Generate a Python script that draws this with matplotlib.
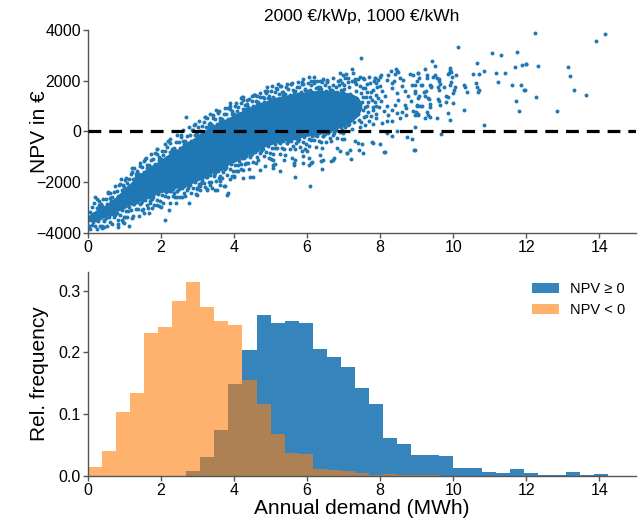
import numpy as np
import matplotlib
matplotlib.use("Agg")
import matplotlib.pyplot as plt

plt.rcParams['font.family'] = ['Liberation Sans', 'DejaVu Sans']

# ---------------- data ----------------
title_text = "2000 €/kWp, 1000 €/kWh"

# dense (solid) core of the scatter cloud: annual demand (MWh) and NPV envelope (€)
core_demand = [0.0, 0.2, 0.4, 0.6, 0.8, 1.0, 1.2, 1.4, 1.6, 1.8, 2.0, 2.2, 2.4, 2.6, 2.8, 3.0,
               3.2, 3.4, 3.6, 3.8, 4.0, 4.2, 4.4, 4.6, 4.8, 5.0, 5.2, 5.4, 5.6, 5.8, 6.0, 6.2,
               6.4, 6.6, 6.8, 7.0, 7.2, 7.4, 7.5]
core_npv_low = [-3580, -3520, -3430, -3300, -3160, -3050, -2880, -2760, -2640, -2540, -2420,
                -2360, -2250, -2190, -2090, -1960, -1830, -1660, -1520, -1360, -1230, -1080,
                -930, -770, -640, -540, -440, -380, -320, -250, -200, -150, -100, -20, 80, 200,
                350, 600, 900]
core_npv_high = [-3330, -3120, -2980, -2760, -2540, -2240, -1980, -1700, -1480, -1290, -1120,
                 -900, -760, -520, -360, -150, 60, 210, 380, 500, 660, 800, 940, 1060, 1160,
                 1260, 1360, 1420, 1480, 1540, 1560, 1600, 1620, 1600, 1570, 1550, 1500, 1350,
                 1100]

# scatter points (demand MWh, NPV €)
upper_fringe = [(0.07,-3165),(0.12,-2985),(0.14,-3265),(0.18,-2820),(0.24,-3030),(0.2,-2600),
    (0.31,-2900),(0.26,-2670),(0.33,-3030),(0.35,-2860),(0.42,-2650),(0.39,-2950),(0.53,-2880),
    (0.49,-2670),(0.55,-2450),(0.61,-2610),(0.56,-2380),(0.63,-2740),(0.67,-2590),(0.72,-2410),
    (0.74,-2690),(0.83,-2550),(0.79,-2340),(0.85,-2120),(0.88,-2090),(0.94,-2300),(0.9,-1870),
    (0.95,-2120),(1.02,-1910),(0.99,-2210),(1.07,-2050),(1.12,-1870),(1.14,-2150),(1.18,-1680),
    (1.24,-1890),(1.2,-1460),(1.31,-1690),(1.26,-1460),(1.33,-1820),(1.35,-1580),(1.42,-1370),
    (1.39,-1670),(1.53,-1600),(1.49,-1390),(1.55,-1170),(1.61,-1330),(1.56,-1100),(1.63,-1460),
    (1.67,-1325),(1.72,-1145),(1.74,-1425),(1.83,-1300),(1.79,-1090),(1.85,-870),(1.88,-905),
    (1.94,-1115),(1.9,-685),(1.95,-1000),(2.02,-790),(1.99,-1090),(2.07,-950),(2.12,-770),
    (2.14,-1050),(2.18,-600),(2.24,-810),(2.2,-380),(2.31,-680),(2.26,-450),(2.33,-810),
    (2.35,-640),(2.42,-430),(2.39,-730),(2.53,-650),(2.49,-440),(2.55,-220),(2.61,-370),
    (2.56,-140),(2.63,-500),(2.67,-380),(2.72,-200),(2.74,-480),(2.83,-370),(2.79,-160),
    (2.85,60),(2.88,45),(2.94,-165),(2.9,265),(2.95,-30),(3.02,180),(2.99,-120),(3.07,15),
    (3.12,195),(3.14,-85),(3.18,360),(3.24,150),(3.2,580),(3.31,285),(3.26,515),(3.33,155),
    (3.35,330),(3.42,540),(3.39,240),(3.53,285),(3.49,495),(3.55,715),(3.61,530),(3.56,760),
    (3.63,400),(3.67,500),(3.72,680),(3.74,400),(3.83,490),(3.79,700),(3.85,920),(3.88,880),
    (3.94,670),(3.9,1100),(3.95,780),(4.02,990),(3.99,690),(4.07,790),(4.12,970),(4.14,690),
    (4.18,1100),(4.24,890),(4.2,1320),(4.31,1020),(4.26,1250),(4.33,890),(4.35,1060),
    (4.42,1270),(4.39,970),(4.53,990),(4.49,1200),(4.55,1420),(4.61,1210),(4.56,1440),
    (4.63,1080),(4.67,1170),(4.72,1350),(4.74,1070),(4.83,1150),(4.79,1360),(4.85,1580),
    (4.88,1510),(4.94,1300),(4.9,1730),(4.95,1380),(5.02,1590),(4.99,1290),(5.07,1370),
    (5.12,1550),(5.14,1270),(5.18,1660),(5.24,1450),(5.2,1880),(5.31,1540),(5.26,1770),
    (5.33,1410),(5.35,1540),(5.42,1750),(5.39,1450),(5.53,1440),(5.49,1650),(5.55,1870),
    (5.61,1630),(5.56,1860),(5.63,1500),(5.67,1570),(5.72,1750),(5.74,1470),(5.83,1530),
    (5.79,1740),(5.85,1960),(5.88,1850),(5.94,1640),(5.9,2070),(5.95,1680),(6.02,1890),
    (5.99,1590),(6.07,1640),(6.12,1820),(6.14,1540),(6.18,1900),(6.24,1690),(6.2,2120),
    (6.31,1760),(6.26,1990),(6.33,1630),(6.35,1740),(6.42,1950),(6.39,1650),(6.53,1600),
    (6.49,1810),(6.55,2030),(6.61,1750),(6.56,1980),(6.63,1620),(6.67,1640),(6.72,1820),
    (6.74,1540),(6.83,1550),(6.79,1760),(6.85,1980),(6.88,1820),(6.94,1610),(6.9,2040),
    (6.95,1600),(7.02,1810),(6.99,1510)]
lower_fringe = [(0.11,-3710),(0.06,-3850),(0.13,-3570),(0.23,-3510),(0.19,-3730),(0.25,-3850),
    (0.27,-3535),(0.32,-3735),(0.34,-3435),(0.38,-3750),(0.44,-3530),(0.4,-3820),(0.45,-3495),
    (0.52,-3715),(0.49,-3405),(0.57,-3360),(0.62,-3560),(0.64,-3260),(0.71,-3390),(0.66,-3650),
    (0.73,-3250),(0.75,-3290),(0.82,-3510),(0.79,-3200),(0.93,-3095),(0.89,-3315),(0.95,-3565),
    (0.98,-3370),(1.04,-3150),(1.0,-3610),(1.11,-3125),(1.06,-3385),(1.13,-2985),(1.23,-2870),
    (1.19,-3090),(1.25,-3340),(1.27,-2880),(1.32,-3080),(1.34,-2780),(1.38,-3080),(1.44,-2860),
    (1.4,-3320),(1.45,-2830),(1.52,-3050),(1.49,-2740),(1.57,-2700),(1.62,-2900),(1.64,-2600),
    (1.71,-2750),(1.66,-3010),(1.73,-2610),(1.75,-2670),(1.82,-2890),(1.79,-2580),(1.93,-2470),
    (1.89,-2690),(1.95,-2940),(1.98,-2740),(2.04,-2520),(2.0,-2980),(2.11,-2550),(2.06,-2810),
    (2.13,-2410),(2.23,-2350),(2.19,-2570),(2.25,-2820),(2.27,-2365),(2.32,-2565),(2.34,-2265),
    (2.38,-2570),(2.44,-2350),(2.4,-2810),(2.45,-2350),(2.52,-2570),(2.49,-2260),(2.57,-2250),
    (2.62,-2450),(2.64,-2150),(2.71,-2300),(2.66,-2560),(2.73,-2160),(2.75,-2220),(2.82,-2440),
    (2.79,-2130),(2.93,-2015),(2.89,-2235),(2.95,-2485),(2.98,-2280),(3.04,-2060),(3.0,-2520),
    (3.11,-2055),(3.06,-2315),(3.13,-1915),(3.23,-1820),(3.19,-2040),(3.25,-2290),(3.27,-1805),
    (3.32,-2005),(3.34,-1705),(3.38,-1980),(3.44,-1760),(3.4,-2220),(3.45,-1720),(3.52,-1940),
    (3.49,-1630),(3.57,-1580),(3.62,-1780),(3.64,-1480),(3.71,-1600),(3.66,-1860),(3.73,-1460),
    (3.75,-1490),(3.82,-1710),(3.79,-1400),(3.93,-1285),(3.89,-1505),(3.95,-1755),(3.98,-1550),
    (4.04,-1330),(4.0,-1790),(4.11,-1315),(4.06,-1575),(4.13,-1175),(4.23,-1070),(4.19,-1290),
    (4.25,-1540),(4.27,-1065),(4.32,-1265),(4.34,-965),(4.38,-1250),(4.44,-1030),(4.4,-1490),
    (4.45,-980),(4.52,-1200),(4.49,-890),(4.57,-830),(4.62,-1030),(4.64,-730),(4.71,-865),
    (4.66,-1125),(4.73,-725),(4.75,-770),(4.82,-990),(4.79,-680),(4.93,-580),(4.89,-800),
    (4.95,-1050),(4.98,-860),(5.04,-640),(5.0,-1100),(5.11,-650),(5.06,-910),(5.13,-510),
    (5.23,-430),(5.19,-650),(5.25,-900),(5.27,-470),(5.32,-670),(5.34,-370),(5.38,-700),
    (5.44,-480),(5.4,-940),(5.45,-480),(5.52,-700),(5.49,-390),(5.57,-380),(5.62,-580),
    (5.64,-280),(5.71,-445),(5.66,-705),(5.73,-305),(5.75,-380),(5.82,-600),(5.79,-290),
    (5.93,-215),(5.89,-435),(5.95,-685),(5.98,-520),(6.04,-300),(6.0,-760),(6.11,-335),
    (6.06,-595),(6.13,-195),(6.23,-140),(6.19,-360),(6.25,-610),(6.27,-185),(6.32,-385),
    (6.34,-85),(6.38,-420),(6.44,-200),(6.4,-660),(6.45,-190),(6.52,-410),(6.49,-100),
    (6.57,-80),(6.62,-280),(6.64,20),(6.71,-130),(6.66,-390),(6.73,10),(6.75,-50),(6.82,-270),
    (6.79,40),(6.93,175),(6.89,-45),(6.95,-295),(6.98,-70),(7.04,150),(7.0,-310)]
upper_far = [(0.3,-2750),(0.6,-2450),(0.75,-2150),(1.05,-1850),(1.2,-1600),(1.42,-1250),
    (1.6,-1050),(1.72,-900),(1.88,-700),(2.1,-500),(2.25,-300),(2.45,-150),(2.6,50),(2.68,570),
    (2.78,180),(2.92,300),(3.05,420),(3.2,560),(3.35,700),(3.42,640),(3.5,820),(3.6,780),
    (3.75,900),(3.9,1000),(4.05,1100),(4.22,1360),(4.25,1340),(4.35,1250),(4.5,1400),(4.58,1420),
    (4.63,1380),(4.72,1500),(4.81,1320),(4.9,1600),(5.05,1800),(5.15,1700),(5.3,1800),
    (5.45,1850),(5.6,1900),(5.75,1950),(5.85,1850),(6.04,2140),(6.1,1970),(6.2,2000),
    (6.36,1970),(6.45,2050),(6.56,1950),(6.7,2100),(6.9,2280),(7.07,2260),(6.99,2200),
    (7.12,2100),(7.22,2000),(7.24,2470),(7.31,2070),(7.47,2880),(7.54,2100),(7.7,2120),
    (7.85,2100),(8.0,2120),(8.18,2040),(8.32,1910),(8.45,2370),(8.41,2240)]
lower_far = [(0.03,-3750),(0.44,-3790),(0.82,-3790),(0.82,-3660),(1.12,-3720),(0.94,-3490),
    (1.03,-3360),(1.21,-3420),(1.47,-3090),(1.53,-3220),(1.67,-3200),(1.71,-2830),(1.76,-3030),
    (1.89,-2890),(2.12,-3490),(2.23,-3120),(2.37,-2430),(2.43,-2580),(2.58,-2570),(2.76,-2830),
    (2.99,-2240),(3.03,-2170),(3.08,-2170),(3.21,-2200),(3.26,-2300),(3.35,-2100),(3.49,-2330),
    (3.53,-2300),(3.58,-1840),(3.62,-2100),(3.63,-1970),(3.72,-2170),(3.76,-2170),(3.81,-2500),
    (3.85,-2430),(3.88,-1870),(3.99,-1780),(4.1,-1550),(4.2,-1500),(4.26,-1840),(4.44,-1820),
    (4.52,-1820),(4.3,-1300),(4.6,-1250),(4.72,-1510),(4.85,-1380),(5.06,-1320),(5.08,-1450),
    (5.08,-1120),(5.13,-1290),(5.27,-1580),(5.36,-1120),(5.58,-1050),(5.63,-1250),(5.63,-1320),
    (5.67,-1820),(5.68,-1120),(5.86,-790),(5.9,-990),(5.9,-1250),(6.04,-1050),(6.04,-1320),
    (6.07,-2170),(6.13,-1210),(6.36,-920),(6.38,-1160),(6.42,-1470),(6.43,-1140),(6.1,-1260),
    (6.65,-1160),(6.72,-1120),(6.75,-1050),(6.81,-640),(6.9,-790),(7.09,-840),(7.09,-860),
    (7.18,-720),(7.2,-1090),(7.4,-460),(7.41,-750),(7.54,-860),(7.77,-430),(7.3,-400),
    (7.5,-500),(7.8,-450),(8.0,-500),(8.12,-820),(8.13,-820),(8.18,-70),(8.32,-200),(8.45,0),
    (8.73,-220),(8.88,-290),(8.92,-720),(8.95,-740),(8.95,160),(9.68,-90),(10.83,240)]
mid_7_8 = [(6.95,1900),(7.0,1650),(7.02,1350),(7.05,1100),(7.08,800),(7.1,500),(7.12,250),
    (7.15,1750),(7.18,1450),(7.2,1200),(7.22,950),(7.25,650),(7.28,350),(7.3,1950),(7.33,1600),
    (7.35,1300),(7.38,1050),(7.4,700),(7.42,450),(7.45,1800),(7.48,1500),(7.5,1150),(7.52,850),
    (7.55,550),(7.57,2050),(7.6,1700),(7.62,1350),(7.65,1000),(7.68,750),(7.7,400),(7.72,1900),
    (7.75,1550),(7.78,1250),(7.8,950),(7.83,2000),(7.85,1150),(7.88,700),(7.92,1750),(7.95,1300),
    (7.98,950),(6.98,1500),(7.03,2100),(7.13,1950),(7.27,1050),(7.36,800),(7.44,2150),
    (7.53,1350),(7.63,1850),(7.67,1150),(7.74,600),(7.06,600),(7.16,300),(7.24,100),(7.46,150),
    (7.58,250),(6.97,50),(6.92,1200),(6.94,800),(6.96,400),(7.35,1850),(7.52,1700),(7.64,1550),
    (7.71,1350),(7.58,950),(7.49,350),(7.62,600),(7.81,300),(7.9,1000),(7.26,2300),(7.4,2050)]
mid_8_9 = [(7.86,2105),(7.95,2040),(7.90,1908),(7.99,1777),(7.81,1645),(7.88,1448),(8.04,1579),
    (8.13,1382),(8.02,1184),(8.18,987),(8.11,790),(8.22,658),(8.33,855),(8.41,1053),(8.50,1250),
    (8.45,1513),(8.33,1711),(8.39,1974),(8.54,2105),(8.63,2040),(8.59,1777),(8.68,1579),
    (8.77,1382),(8.84,1184),(8.72,921),(8.91,790),(9.00,1053),(9.04,1316),(8.95,1579),
    (8.86,1842),(9.00,1974),(9.06,2105),(8.68,1053),(8.54,526),(8.32,395),(8.18,395),(8.04,329),
    (7.90,526),(7.81,855),(8.02,2237),(8.22,2237),(8.30,2369),(8.43,2435),(8.50,2342),
    (8.83,2263),(8.89,2211),(9.04,2303),(8.72,658),(8.59,763),(8.45,724)]
sparse_9_12 = [(10.14,3340),(11.07,3090),(11.31,2990),(11.76,3140),(10.64,2700),(9.43,2780),
    (9.51,2580),(9.22,2460),(9.04,2290),(9.28,2210),(9.28,2100),(9.5,2200),(9.55,2100),
    (9.45,2150),(9.6,2060),(9.9,2500),(9.92,2400),(9.88,2290),(9.85,2270),(9.95,2340),
    (10.08,2200),(9.97,2140),(10.05,1740),(10.29,1840),(10.32,1760),(10.38,1540),(10.53,2260),
    (10.7,2260),(10.62,1890),(10.66,1750),(10.72,1640),(10.68,1540),(10.83,2370),(11.17,2290),
    (11.42,2300),(11.22,1960),(11.62,1840),(11.69,2550),(11.89,2600),(11.98,2660),(11.86,1820),
    (11.93,1630),(11.71,1200),(11.81,800),(10.3,830),(8.95,1840),(9.12,1840),(9.16,1840),
    (9.06,1380),(9.22,1380),(9.3,1320),(9.33,1260),(8.95,1510),(9.2,1550),(9.25,1580),
    (9.37,1090),(9.36,960),(9.16,990),(8.98,760),(9.04,660),(8.95,630),(9.27,760),(9.3,660),
    (9.24,540),(9.36,550),(9.57,540),(9.63,1050),(9.6,1200),(9.58,1290),(9.79,1160),(9.85,710),
    (9.92,460),(10.0,1120),(10.0,1510),(10.01,1640),(9.6,1640),(9.59,1760),(9.65,1870),
    (9.6,2000),(9.4,1740),(9.39,1790),(9.37,1820),(9.8,1380),(9.86,1350),(9.9,1820),(9.93,1930),
    (9.75,1740),(9.05,680),(9.0,1010),(9.08,990)]
sparse_12_15 = [(12.23,3880),(14.16,3840),(13.91,3540),(11.99,2660),(12.33,2590),(13.14,2530),
    (13.21,2160),(13.30,1640),(11.96,1640),(12.26,1340),(13.63,1410),(12.83,800)]

# histogram of annual demand (37 equal bins from 0 to 14.24 MWh), density
hist_range = (0.0, 14.24)
hist_bins = 37
freq_npv_pos = [0, 0, 0, 0, 0, 0, 0, 0.008, 0.031, 0.075, 0.149, 0.204, 0.261, 0.248, 0.250,
                0.248, 0.206, 0.192, 0.176, 0.143, 0.117, 0.061, 0.052, 0.034, 0.034, 0.032,
                0.013, 0.013, 0.0065, 0.0043, 0.012, 0.0043, 0.001, 0.001, 0.0065, 0.001, 0.003]
freq_npv_neg = [0.015, 0.041, 0.103, 0.135, 0.231, 0.241, 0.283, 0.313, 0.273, 0.250, 0.245,
                0.156, 0.117, 0.068, 0.038, 0.035, 0.011, 0.010, 0.008, 0.005, 0.001, 0.003,
                0.0016, 0.001, 0.001, 0, 0, 0, 0, 0, 0, 0, 0, 0, 0, 0, 0]

# ---------------- figure ----------------
fig = plt.figure(figsize=(6.41, 5.22), dpi=100)
ax1 = fig.add_axes([0.137, 0.554, 0.855, 0.389])
ax2 = fig.add_axes([0.137, 0.088, 0.855, 0.391])

blue = '#1f77b4'
orange = '#ff7f0e'
spine_col = '#555555'

pts = (upper_fringe + lower_fringe + upper_far + lower_far + mid_7_8 + mid_8_9
       + sparse_9_12 + sparse_12_15)
sx = [p[0] for p in pts]
sy = [p[1] for p in pts]

ax1.fill_between(core_demand, core_npv_low, core_npv_high, color=blue, linewidth=0, zorder=2)
ax1.scatter(sx, sy, s=8, color=blue, linewidths=0, zorder=3)
ax1.axhline(0, color='black', linestyle=(0, (4, 2.5)), linewidth=2.3, zorder=4)
ax1.set_xlim(0, 15)
ax1.set_ylim(-4000, 4000)
ax1.set_yticks([-4000, -2000, 0, 2000, 4000])
ax1.set_yticklabels(['\u22124000', '\u22122000', '0', '2000', '4000'])
ax1.set_xticks([0, 2, 4, 6, 8, 10, 12, 14])
ax1.set_ylabel('NPV in €', fontsize=15)
ax1.set_title(title_text, fontsize=12.5, pad=6)

edges = np.linspace(hist_range[0], hist_range[1], hist_bins + 1)
widths = np.diff(edges)
ax2.bar(edges[:-1], freq_npv_pos, width=widths, align='edge', color=blue, alpha=0.9,
        linewidth=0, label='NPV ≥ 0')
ax2.bar(edges[:-1], freq_npv_neg, width=widths, align='edge', color=orange, alpha=0.6,
        linewidth=0, label='NPV < 0')
ax2.set_xlim(0, 15)
ax2.set_ylim(0, 0.33)
ax2.set_yticks([0.0, 0.1, 0.2, 0.3])
ax2.set_yticklabels(['0.0', '0.1', '0.2', '0.3'])
ax2.set_xticks([0, 2, 4, 6, 8, 10, 12, 14])
ax2.set_ylabel('Rel. frequency', fontsize=15)
ax2.set_xlabel('Annual demand (MWh)', fontsize=15, labelpad=1)
ax2.legend(loc='upper right', frameon=False, fontsize=10.5, handlelength=1.8,
           borderaxespad=0.3, handletextpad=0.8)

for ax in (ax1, ax2):
    ax.spines['top'].set_visible(False)
    ax.spines['right'].set_visible(False)
    for s in ('left', 'bottom'):
        ax.spines[s].set_color(spine_col)
        ax.spines[s].set_linewidth(1.0)
    ax.tick_params(axis='both', labelsize=11.5, length=3.5, width=1.0, color=spine_col, pad=1.5)
    ax.yaxis.set_label_coords(-0.07, 0.5)

fig.savefig('out.png', dpi=100)
